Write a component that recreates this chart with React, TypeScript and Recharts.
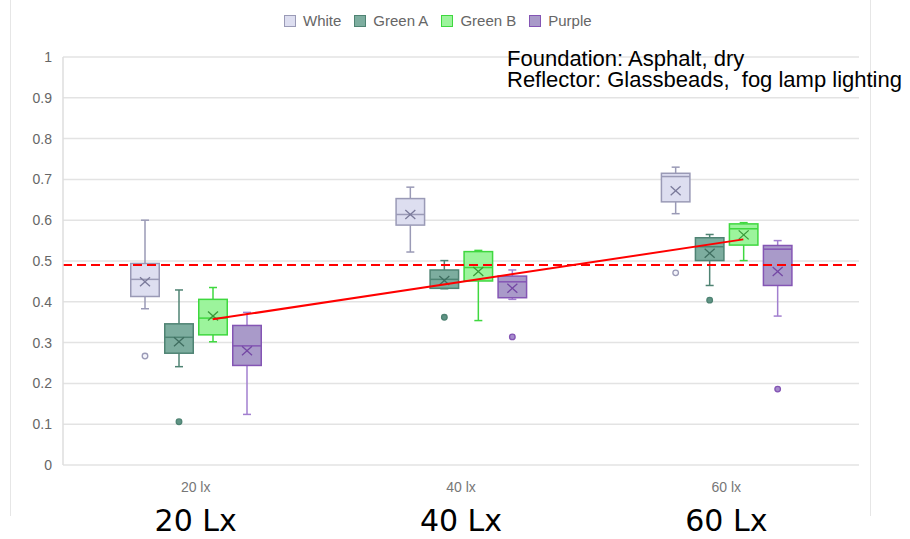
import React from "react";
import { ComposedChart, Bar, XAxis, YAxis, CartesianGrid, ReferenceLine } from "recharts";

const CATEGORIES = ["20 lx", "40 lx", "60 lx"];
const BIG_LABELS = ["20 Lx", "40 Lx", "60 Lx"];
const Y_TICKS = [0, 0.1, 0.2, 0.3, 0.4, 0.5, 0.6, 0.7, 0.8, 0.9, 1];

const WHITE_MIN = [0.383, 0.522, 0.616];
const WHITE_Q1 = [0.413, 0.588, 0.645];
const WHITE_MEDIAN = [0.455, 0.614, 0.707];
const WHITE_Q3 = [0.494, 0.653, 0.715];
const WHITE_MAX = [0.6, 0.681, 0.73];
const WHITE_MEAN = [0.449, 0.614, 0.672];
const WHITE_OUTLIERS = [[0.267], [], [0.471]];

const GREEN_A_MIN = [0.241, 0.432, 0.44];
const GREEN_A_Q1 = [0.274, 0.433, 0.501];
const GREEN_A_MEDIAN = [0.313, 0.455, 0.535];
const GREEN_A_Q3 = [0.346, 0.478, 0.557];
const GREEN_A_MAX = [0.429, 0.501, 0.565];
const GREEN_A_MEAN = [0.302, 0.452, 0.519];
const GREEN_A_OUTLIERS = [[0.106], [0.362], [0.404]];

const GREEN_B_MIN = [0.302, 0.354, 0.501];
const GREEN_B_Q1 = [0.319, 0.451, 0.539];
const GREEN_B_MEDIAN = [0.36, 0.484, 0.579];
const GREEN_B_Q3 = [0.406, 0.523, 0.591];
const GREEN_B_MAX = [0.435, 0.526, 0.594];
const GREEN_B_MEAN = [0.365, 0.474, 0.564];
const GREEN_B_OUTLIERS = [[], [], []];

const PURPLE_MIN = [0.124, 0.406, 0.365];
const PURPLE_Q1 = [0.244, 0.41, 0.44];
const PURPLE_MEDIAN = [0.292, 0.449, 0.529];
const PURPLE_Q3 = [0.342, 0.463, 0.538];
const PURPLE_MAX = [0.374, 0.478, 0.55];
const PURPLE_MEAN = [0.28, 0.433, 0.474];
const PURPLE_OUTLIERS = [[], [0.314], [0.186]];

// red lines
const THRESHOLD = 0.49;
const TREND_FROM = 0.357; // Green B, 20 lx
const TREND_TO = 0.553; // Green B, 60 lx

const BAR_SIZE = 30;
const BAR_GAP = 4;

const SERIES = [
  { key: "white", name: "White", fill: "#dddef0", stroke: "#9a9ab6", mark: "#7a7a9a", dot: "#f4f4fb",
    min: WHITE_MIN, q1: WHITE_Q1, median: WHITE_MEDIAN, q3: WHITE_Q3, max: WHITE_MAX, mean: WHITE_MEAN, outliers: WHITE_OUTLIERS },
  { key: "greenA", name: "Green A", fill: "#7dad9f", stroke: "#4f8373", mark: "#3f6e60", dot: "#5f9485",
    min: GREEN_A_MIN, q1: GREEN_A_Q1, median: GREEN_A_MEDIAN, q3: GREEN_A_Q3, max: GREEN_A_MAX, mean: GREEN_A_MEAN, outliers: GREEN_A_OUTLIERS },
  { key: "greenB", name: "Green B", fill: "#9cf49c", stroke: "#3fd83f", mark: "#3a9a3a", dot: "#9cf49c",
    min: GREEN_B_MIN, q1: GREEN_B_Q1, median: GREEN_B_MEDIAN, q3: GREEN_B_Q3, max: GREEN_B_MAX, mean: GREEN_B_MEAN, outliers: GREEN_B_OUTLIERS },
  { key: "purple", name: "Purple", fill: "#a99ac9", stroke: "#8455b4", mark: "#7447a4", dot: "#a58bcc",
    min: PURPLE_MIN, q1: PURPLE_Q1, median: PURPLE_MEDIAN, q3: PURPLE_Q3, max: PURPLE_MAX, mean: PURPLE_MEAN, outliers: PURPLE_OUTLIERS },
];

const data = CATEGORIES.map((cat, i) => {
  const row: any = { cat };
  SERIES.forEach((s) => {
    row[s.key] = {
      min: s.min[i], q1: s.q1[i], median: s.median[i], q3: s.q3[i],
      max: s.max[i], mean: s.mean[i], outliers: s.outliers[i],
    };
  });
  return row;
});

function BoxShape(props: any) {
  const { x, y, width, height, payload, s } = props;
  const st = payload[s.key];
  const top = Math.min(y, y + height);
  const span = Math.abs(height);
  // pixel position of a value, from the bar's own [min, max] placement
  const py = (v: number) => top + ((st.max - v) / (st.max - st.min)) * span;
  const cx = x + width / 2;
  const whisker = s.key === "purple" ? "#a27fcf" : s.stroke;
  const mx = py(st.mean);
  return (
    <g>
      <line x1={cx} x2={cx} y1={py(st.max)} y2={py(st.q3)} stroke={whisker} strokeWidth={1.5} />
      <line x1={cx} x2={cx} y1={py(st.q1)} y2={py(st.min)} stroke={whisker} strokeWidth={1.5} />
      <line x1={cx - 4} x2={cx + 4} y1={py(st.max)} y2={py(st.max)} stroke={whisker} strokeWidth={1.5} />
      <line x1={cx - 4} x2={cx + 4} y1={py(st.min)} y2={py(st.min)} stroke={whisker} strokeWidth={1.5} />
      <rect x={x + 0.75} y={py(st.q3)} width={width - 1.5} height={py(st.q1) - py(st.q3)}
        fill={s.fill} stroke={s.stroke} strokeWidth={1.5} />
      <line x1={x + 0.75} x2={x + width - 0.75} y1={py(st.median)} y2={py(st.median)} stroke={s.stroke} strokeWidth={1.5} />
      <line x1={cx - 5} x2={cx + 5} y1={mx - 4.5} y2={mx + 4.5} stroke={s.mark} strokeWidth={1.3} />
      <line x1={cx - 5} x2={cx + 5} y1={mx + 4.5} y2={mx - 4.5} stroke={s.mark} strokeWidth={1.3} />
      {st.outliers.map((o: number, k: number) => (
        <circle key={k} cx={cx} cy={py(o)} r={2.8} fill={s.dot} stroke={s.stroke} strokeWidth={1.3} />
      ))}
    </g>
  );
}

function XTick(props: any) {
  const { x, y, payload } = props;
  const idx = CATEGORIES.indexOf(payload.value);
  return (
    <g>
      <text x={x} y={y + 19} textAnchor="middle" fill="#777" fontSize={14} fontFamily="'Liberation Sans', Arial, sans-serif">
        {payload.value}
      </text>
      <text x={x} y={y + 58} textAnchor="middle" fill="#000" fontSize={30} fontFamily="'DejaVu Sans', sans-serif">
        {BIG_LABELS[idx]}
      </text>
    </g>
  );
}

function TrendLine(props: any) {
  const { x1, y1, x2, y2 } = props;
  // Green B sits half a bar + half a gap right of the category centre
  const dx = (BAR_SIZE + BAR_GAP) / 2;
  return <line x1={x1 + dx} y1={y1} x2={x2 + dx} y2={y2} stroke="#ff0000" strokeWidth={2} />;
}

export default function App() {
  return (
    <div style={{ position: "absolute", left: 0, top: 0, width: 910, height: 539, background: "#fff" }}>
      <div style={{ position: "absolute", left: 10, top: 0, width: 859, height: 516, borderLeft: "1.5px solid #e6e6e6", borderRight: "1.5px solid #e6e6e6" }} />
      <div style={{ position: "absolute", left: 284, top: 12, display: "flex", alignItems: "center", fontFamily: "'Liberation Sans', Arial, sans-serif", fontSize: 15, color: "#666" }}>
        {SERIES.map((s) => (
          <div key={s.key} style={{ display: "flex", alignItems: "center", marginRight: 13 }}>
            <span style={{ width: 10, height: 10, background: s.fill, border: `1.5px solid ${s.stroke}`, marginRight: 7 }} />
            <span>{s.name}</span>
          </div>
        ))}
      </div>
      <ComposedChart width={910} height={539} data={data} margin={{ top: 57, right: 51, bottom: 0, left: 10 }}
        barSize={BAR_SIZE} barGap={BAR_GAP}>
        <CartesianGrid vertical={false} stroke="#e3e3e3" strokeWidth={1.5} />
        <XAxis dataKey="cat" height={74} axisLine={false} tickLine={false} tick={<XTick />} interval={0} />
        <YAxis domain={[0, 1]} ticks={Y_TICKS} width={53} tickLine={false} tickSize={6} tickMargin={5}
          axisLine={{ stroke: "#dedede", strokeWidth: 1.5 }}
          tick={{ fill: "#666", fontSize: 14, fontFamily: "'Liberation Sans', Arial, sans-serif" }}
          tickFormatter={(v: number) => String(v)} />
        {SERIES.map((s) => (
          <Bar key={s.key} name={s.name} dataKey={(row: any) => [row[s.key].min, row[s.key].max]}
            isAnimationActive={false} shape={(p: any) => <BoxShape {...p} s={s} />} />
        ))}
        <ReferenceLine y={THRESHOLD} stroke="#ff0000" strokeWidth={2} strokeDasharray="9 5" />
        <ReferenceLine segment={[{ x: CATEGORIES[0], y: TREND_FROM }, { x: CATEGORIES[2], y: TREND_TO }]}
          shape={(p: any) => <TrendLine {...p} />} />
      </ComposedChart>
      <div style={{ position: "absolute", left: 507, top: 48, fontFamily: "'Liberation Sans', Arial, sans-serif", fontSize: 22, lineHeight: "21px", color: "#000", whiteSpace: "pre" }}>
        {"Foundation: Asphalt, dry\nReflector: Glassbeads,  fog lamp lighting"}
      </div>
    </div>
  );
}
